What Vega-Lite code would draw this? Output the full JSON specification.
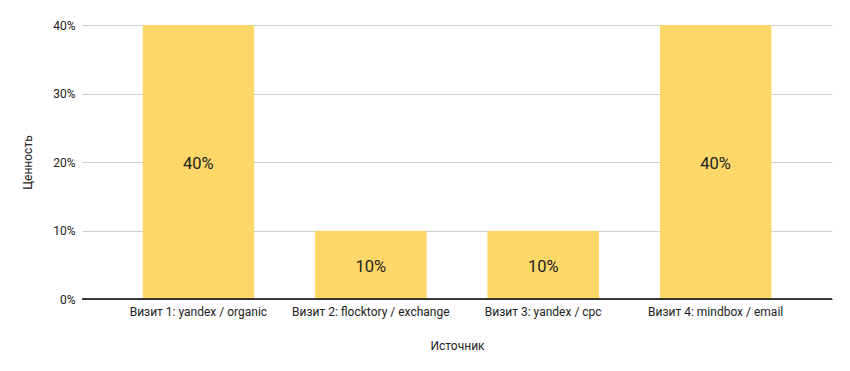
{
  "$schema": "https://vega.github.io/schema/vega-lite/v6.json",
  "width": 750,
  "height": 274,
  "autosize": {"type": "none"},
  "padding": {"left": 82, "top": 25, "right": 18, "bottom": 72},
  "background": "white",
  "config": {
    "view": {"stroke": null},
    "font": "Roboto"
  },
  "data": {
    "values": [
      {"source": "Визит 1: yandex / organic", "value": 0.4},
      {"source": "Визит 2: flocktory / exchange", "value": 0.1},
      {"source": "Визит 3: yandex / cpc", "value": 0.1},
      {"source": "Визит 4: mindbox / email", "value": 0.4}
    ]
  },
  "encoding": {
    "x": {
      "field": "source",
      "type": "nominal",
      "sort": null,
      "scale": {"paddingInner": 0.35, "paddingOuter": 0.35},
      "axis": {
        "title": "Источник",
        "labelAngle": 0,
        "labelFontSize": 12,
        "labelColor": "#222222",
        "labelPadding": 7,
        "ticks": false,
        "domainColor": "#333333",
        "domainWidth": 1,
        "titleFontSize": 12,
        "titleFontWeight": "normal",
        "titleColor": "#222222",
        "titlePadding": 23
      }
    },
    "y": {
      "field": "value",
      "type": "quantitative",
      "scale": {"domain": [0, 0.4], "nice": false},
      "axis": {
        "title": "Ценность",
        "format": ".0%",
        "values": [0, 0.1, 0.2, 0.3, 0.4],
        "labelFontSize": 12,
        "labelColor": "#222222",
        "labelPadding": 7,
        "ticks": false,
        "domain": false,
        "gridColor": "#cccccc",
        "titleFontSize": 12,
        "titleFontWeight": "normal",
        "titleColor": "#222222",
        "titlePadding": 18
      }
    }
  },
  "layer": [
    {
      "mark": {"type": "bar", "color": "#fdd868", "cornerRadiusTopLeft": 2, "cornerRadiusTopRight": 2}
    },
    {
      "mark": {"type": "rule", "color": "#333333", "strokeWidth": 1},
      "encoding": {"x": null, "y": {"datum": 0, "type": "quantitative"}}
    },
    {
      "mark": {"type": "text", "fontSize": 16.5, "color": "#222222", "baseline": "middle", "dy": 2},
      "encoding": {
        "y": {"field": "mid", "type": "quantitative"},
        "text": {"field": "value", "type": "quantitative", "format": ".0%"}
      },
      "transform": [{"calculate": "datum.value / 2", "as": "mid"}]
    }
  ]
}
